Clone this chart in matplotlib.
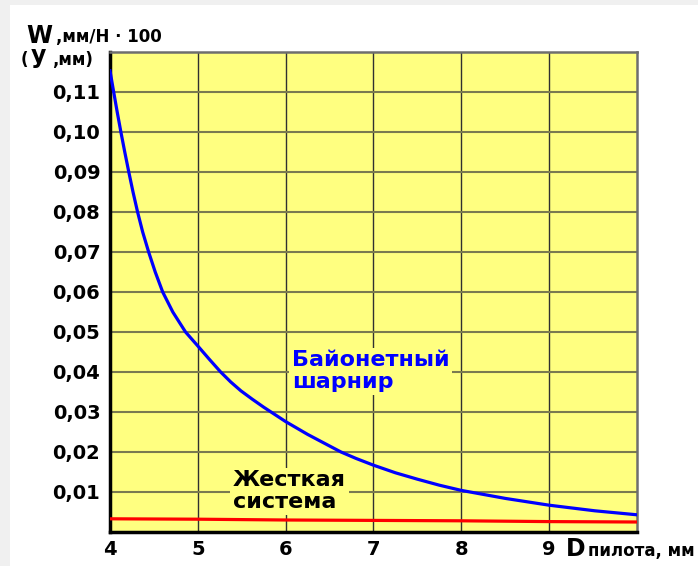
import matplotlib

matplotlib.use("Agg")
import matplotlib.pyplot as plt
from matplotlib.patches import Rectangle

# values
d_bayonet = [4.0, 4.042, 4.082, 4.124, 4.168, 4.214, 4.262, 4.314, 4.372,
             4.44, 4.515, 4.60, 4.715, 4.86, 5.0, 5.13, 5.26, 5.375, 5.49,
             5.62, 5.75, 6.0, 6.25, 6.5, 6.63, 6.8, 7.0, 7.25, 7.5, 7.75,
             8.0, 8.5, 9.0, 9.52, 10.0]
w_bayonet = [0.1153, 0.110, 0.105, 0.100, 0.095, 0.090, 0.085, 0.080, 0.075,
             0.070, 0.065, 0.060, 0.055, 0.050, 0.0465, 0.0432, 0.0400,
             0.0375, 0.0353, 0.0332, 0.0312, 0.0276, 0.0244, 0.0215, 0.0200,
             0.0184, 0.0167, 0.0148, 0.0132, 0.0117, 0.0104, 0.0084, 0.0067,
             0.0053, 0.0043]
d_rigid = [4, 5, 6, 7, 8, 9, 10]
w_rigid = [0.0033, 0.0032, 0.0030, 0.0029, 0.0028, 0.0026, 0.0025]

x_ticks = [4, 5, 6, 7, 8, 9]
y_ticks = [0.01, 0.02, 0.03, 0.04, 0.05, 0.06, 0.07, 0.08, 0.09, 0.10, 0.11]
y_labels = ["0,01", "0,02", "0,03", "0,04", "0,05", "0,06",
            "0,07", "0,08", "0,09", "0,10", "0,11"]

W, H = 698, 566
YELLOW = "#FFFF80"
plt.rcParams["font.family"] = ["DejaVu Sans"]
plt.rcParams["font.weight"] = "bold"

fig = plt.figure(figsize=(W / 100, H / 100), dpi=100, facecolor="white")
# light grey strip along the top and left edges
fig.patches.append(Rectangle((0, 0), 10 / W, 1, transform=fig.transFigure,
                             facecolor="#F0F0F0", edgecolor="none", zorder=0))
fig.patches.append(Rectangle((0, 1 - 5 / H), 1, 5 / H, transform=fig.transFigure,
                             facecolor="#F0F0F0", edgecolor="none", zorder=0))

ax = fig.add_axes([110 / W, 1 - 532 / H, 527 / W, 480 / H])
ax.set_facecolor(YELLOW)
ax.set_xlim(4, 10)
ax.set_ylim(0, 0.12)

ax.set_xticks(x_ticks)
ax.set_xticklabels([str(t) for t in x_ticks], fontsize=14, fontweight="bold")
ax.set_yticks(y_ticks)
ax.set_yticklabels(y_labels, fontsize=14, fontweight="bold")
ax.tick_params(axis="both", length=0)
ax.tick_params(axis="y", pad=7)
ax.tick_params(axis="x", pad=6)

ax.set_axisbelow(True)
ax.xaxis.grid(True, color="#303030", linewidth=1.0)
ax.yaxis.grid(True, color="#7a7a50", linewidth=1.5)

for side in ["left", "bottom"]:
    ax.spines[side].set_linewidth(2.5)
    ax.spines[side].set_color("black")
for side in ["top", "right"]:
    ax.spines[side].set_linewidth(1.8)
    ax.spines[side].set_color("#6e6e6e")

ax.plot(d_bayonet, w_bayonet, color="#0000FF", linewidth=2.3, zorder=3,
        solid_joinstyle="round")
ax.plot(d_rigid, w_rigid, color="#FF0000", linewidth=2.3, zorder=3)

ax.text(6.07, 0.036, "Байонетный\nшарнир", color="#0000FF", fontsize=16,
        fontweight="bold", linespacing=1.1, va="baseline", ha="left", zorder=2,
        bbox=dict(facecolor=YELLOW, edgecolor="none", pad=2))
ax.text(5.40, 0.006, "Жесткая\nсистема", color="black", fontsize=16,
        fontweight="bold", linespacing=1.1, va="baseline", ha="left", zorder=2,
        bbox=dict(facecolor=YELLOW, edgecolor="none", pad=2))


def ftext(x, y, s, size):
    fig.text(x / W, 1 - y / H, s, fontsize=size, fontweight="bold",
             va="baseline", ha="left")


# y-axis title
ftext(26, 43, "W", 17)
ftext(56, 42, ",мм/Н · 100", 12)
ftext(21, 65, "(", 12)
ftext(31, 63, "у", 17)
ftext(52, 65, ",мм)", 12)
# x-axis title
ftext(566, 556, "D", 17)
ftext(588, 556, "пилота, мм", 12)

fig.savefig("out.png", dpi=100)
